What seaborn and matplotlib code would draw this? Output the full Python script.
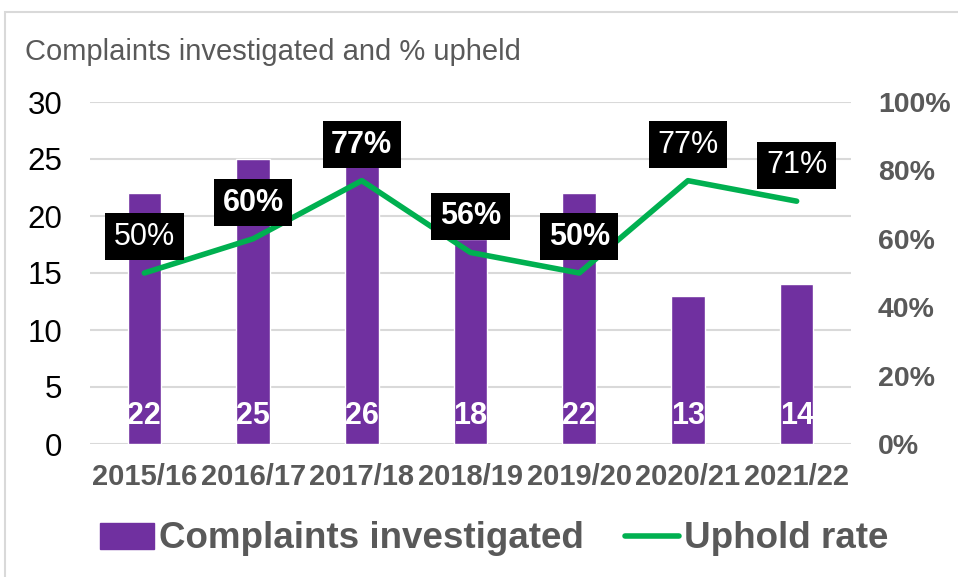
import numpy as np
import seaborn as sns
import matplotlib.pyplot as plt
from matplotlib.patches import Rectangle

# data
years = ['2015/16', '2016/17', '2017/18', '2018/19', '2019/20', '2020/21', '2021/22']
complaints = [22, 25, 26, 18, 22, 13, 14]
uphold_rate = [50, 60, 77, 56, 50, 77, 71]
bold_labels = [False, True, True, True, True, False, False]

purple = '#7030a0'
green = '#00b050'
grey = '#595959'
grid_grey = '#d9d9d9'

sns.set_style('white')
plt.rcParams['font.family'] = ['Liberation Sans', 'DejaVu Sans']

fig = plt.figure(figsize=(9.58, 5.77), dpi=100)
ax = fig.add_axes([90 / 958, 1 - 444 / 577, (851 - 90) / 958, (444 - 102) / 577])

sns.barplot(x=years, y=complaints, color=purple, width=0.31, saturation=1, ax=ax, zorder=2)
ax.set_ylim(0, 30)
ax.set_xlim(-0.5, len(years) - 0.5)
ax.set_yticks(range(0, 31, 5))
ax.yaxis.grid(True, color=grid_grey, lw=1.5, zorder=0)
ax.set_axisbelow(True)
ax.tick_params(axis='y', labelsize=22.5, colors='black', length=0, pad=20)
ax.tick_params(axis='x', labelsize=21, length=0, pad=14, labelcolor=grey)
for lbl in ax.get_xticklabels():
    lbl.set_fontweight('bold')
ax.set_xlabel('')
ax.set_ylabel('')
for s in ax.spines.values():
    s.set_visible(False)

# value labels inside bars
for i, v in enumerate(complaints):
    ax.text(i, 2.5, str(v), ha='center', va='center', color='white',
            fontsize=22, fontweight='bold', zorder=3)

ax2 = ax.twinx()
xpos = np.arange(len(years))
sns.lineplot(x=xpos, y=uphold_rate, color=green, lw=4, ax=ax2,
             solid_capstyle='round', solid_joinstyle='round', zorder=3)
ax2.set_ylim(0, 100)
ax2.set_yticks(range(0, 101, 20))
ax2.set_yticklabels([f'{t}%' for t in range(0, 101, 20)])
ax2.tick_params(axis='y', labelsize=20.5, colors=grey, length=0, pad=19.5)
for lbl in ax2.get_yticklabels():
    lbl.set_fontweight('bold')
ax2.set_ylabel('')
ax2.grid(False)
for s in ax2.spines.values():
    s.set_visible(False)

for i, r in enumerate(uphold_rate):
    ax2.annotate(f'{r}%', (i, r), xytext=(0, 26), textcoords='offset points',
                 ha='center', va='center', color='white', fontsize=22,
                 fontweight='bold' if bold_labels[i] else 'normal',
                 bbox=dict(boxstyle='square,pad=0.28', fc='black', ec='none'),
                 zorder=5)

fig.text(25 / 958, 1 - 52 / 577, 'Complaints investigated and % upheld',
         fontsize=21, color=grey, va='center', ha='left')

handles = [Rectangle((0, 0), 1, 1, color=purple),
           plt.Line2D([0], [0], color=green, lw=4, solid_capstyle='round')]
leg = fig.legend(handles, ['Complaints investigated', 'Uphold rate'],
                 loc='center', bbox_to_anchor=(0.516, 1 - 539 / 577), ncol=2,
                 frameon=False, handlelength=1.46, handletextpad=0.15,
                 columnspacing=1.1, prop={'size': 26.5, 'weight': 'bold'})
for t in leg.get_texts():
    t.set_color(grey)

fig.patches.append(Rectangle((5 / 958, -0.05), 1.2, 1 - 12 / 577 + 0.05,
                             transform=fig.transFigure, fill=False,
                             ec=grid_grey, lw=1.5))

fig.savefig('out.png', dpi=100)
